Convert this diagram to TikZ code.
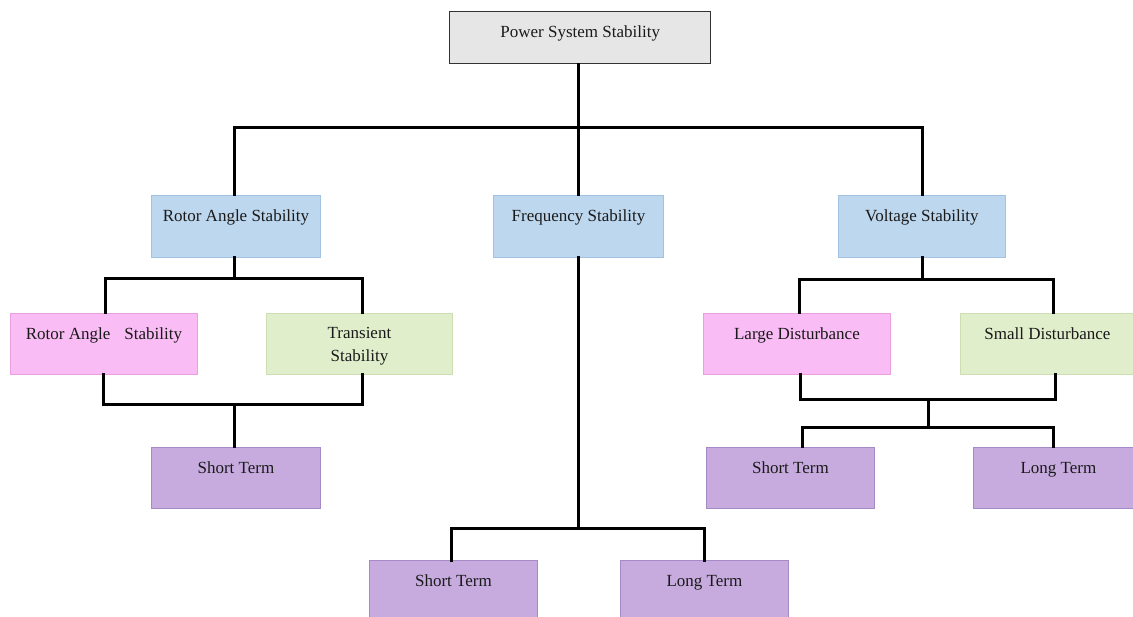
\documentclass[tikz,border=0pt]{standalone}
\usepackage{fontspec}
\setmainfont{Liberation Serif}
\begin{document}
\definecolor{textc}{HTML}{1A1A1A}
\definecolor{grayfill}{HTML}{E6E6E6}
\definecolor{grayline}{HTML}{333333}
\definecolor{bluefill}{HTML}{BDD7EE}
\definecolor{blueline}{HTML}{A3C2E2}
\definecolor{pinkfill}{HTML}{F9BCF4}
\definecolor{pinkline}{HTML}{E79FE0}
\definecolor{greenfill}{HTML}{E0EECB}
\definecolor{greenline}{HTML}{CCDFB3}
\definecolor{purplefill}{HTML}{C7ABDF}
\definecolor{purpleline}{HTML}{A68AC6}
\begin{tikzpicture}[x=1pt,y=-1pt,
  box/.style={rectangle, anchor=north west, inner sep=0pt, line width=0.9pt},
  rootbox/.style={box, fill=grayfill, draw=grayline, line width=1.4pt},
  bluebox/.style={box, fill=bluefill, draw=blueline},
  pinkbox/.style={box, fill=pinkfill, draw=pinkline},
  greenbox/.style={box, fill=greenfill, draw=greenline},
  purplebox/.style={box, fill=purplefill, draw=purpleline},
  boxtext/.style={anchor=north, yshift=-14pt, inner sep=0pt, text=textc,
    font=\fontsize{17}{23}\selectfont},
  oneline/.style={boxtext, text height=12pt, text depth=4pt},
  wire/.style={line width=3pt, black, line cap=rect}]
\useasboundingbox (0,0) rectangle (1133,617);
\begin{scope}
\clip (0,0) rectangle (1133,617);

% root
\node[rootbox, minimum width=261pt, minimum height=52pt,
  label={[oneline]north:Power System Stability}] (pss) at (449,11) {};

% second level
\node[bluebox, minimum width=169pt, minimum height=62pt,
  label={[oneline]north:Rotor Angle Stability}] (ras) at (151,195) {};
\node[bluebox, minimum width=170pt, minimum height=62pt,
  label={[oneline]north:Frequency Stability}] (fs) at (493,195) {};
\node[bluebox, minimum width=167pt, minimum height=62pt,
  label={[oneline]north:Voltage Stability}] (vs) at (838,195) {};

% rotor angle branch
\node[pinkbox, minimum width=187pt, minimum height=61pt,
  label={[oneline]north:Rotor Angle\hspace{14pt}Stability}] (rap) at (10,313) {};
\node[greenbox, minimum width=186pt, minimum height=61pt,
  label={[boxtext, align=center]north:Transient\\Stability}] (ts) at (266,313) {};
\node[purplebox, minimum width=169pt, minimum height=61pt,
  label={[oneline]north:Short Term}] (st1) at (151,447) {};

% frequency branch
\node[purplebox, minimum width=168pt, minimum height=62pt,
  label={[oneline]north:Short Term}] (st2) at (369,560) {};
\node[purplebox, minimum width=168pt, minimum height=62pt,
  label={[oneline]north:Long Term}] (lt2) at (620,560) {};

% voltage branch
\node[pinkbox, minimum width=187pt, minimum height=61pt,
  label={[oneline]north:Large Disturbance}] (ld) at (703,313) {};
\node[greenbox, minimum width=174pt, minimum height=61pt,
  label={[oneline]north:Small Disturbance}] (sd) at (960,313) {};
\node[purplebox, minimum width=168pt, minimum height=61pt,
  label={[oneline]north:Short Term}] (st3) at (706,447) {};
\node[purplebox, minimum width=170pt, minimum height=61pt,
  label={[oneline]north:Long Term}] (lt3) at (973,447) {};
\end{scope}

% junction points of the connector tree
\coordinate (j0) at (578,128);
\coordinate (j1L) at (234,279);
\coordinate (j1a) at (105,279);
\coordinate (j1b) at (362,279);
\coordinate (j2a) at (103,405);
\coordinate (j2b) at (362,405);
\coordinate (j2) at (234,405);
\coordinate (j3) at (578,528);
\coordinate (j3a) at (451,528);
\coordinate (j3b) at (704,528);
\coordinate (j4) at (922,280);
\coordinate (j4a) at (799,280);
\coordinate (j4b) at (1053,280);
\coordinate (j5a) at (800,400);
\coordinate (j5b) at (1055,400);
\coordinate (j5) at (928,400);
\coordinate (j6) at (928,428);
\coordinate (j6a) at (802,428);
\coordinate (j6b) at (1053,428);

% root to second level
\draw[wire] (pss.south -| j0) -- (j0);
\draw[wire] (j0 -| 234,0) -- (j0 -| 922,0);
\draw[wire] (j0 -| 234,0) -- (ras.north -| 234,0);
\draw[wire] (j0) -- (fs.north -| j0);
\draw[wire] (j0 -| 922,0) -- (vs.north -| 922,0);

% rotor angle stability branch
\draw[wire] (ras.south -| j1L) -- (j1L);
\draw[wire] (j1a) -- (j1b);
\draw[wire] (j1a) -- (rap.north -| j1a);
\draw[wire] (j1b) -- (ts.north -| j1b);
\draw[wire] (rap.south -| j2a) -- (j2a) -- (j2b) -- (ts.south -| j2b);
\draw[wire] (j2) -- (st1.north -| j2);

% frequency stability branch
\draw[wire] (fs.south -| j3) -- (j3);
\draw[wire] (j3a) -- (j3b);
\draw[wire] (j3a) -- (st2.north -| j3a);
\draw[wire] (j3b) -- (lt2.north -| j3b);

% voltage stability branch
\draw[wire] (vs.south -| j4) -- (j4);
\draw[wire] (j4a) -- (j4b);
\draw[wire] (j4a) -- (ld.north -| j4a);
\draw[wire] (j4b) -- (sd.north -| j4b);
\draw[wire] (ld.south -| j5a) -- (j5a) -- (j5b) -- (sd.south -| j5b);
\draw[wire] (j5) -- (j6);
\draw[wire] (j6a) -- (j6b);
\draw[wire] (j6a) -- (st3.north -| j6a);
\draw[wire] (j6b) -- (lt3.north -| j6b);
\end{tikzpicture}
\end{document}
